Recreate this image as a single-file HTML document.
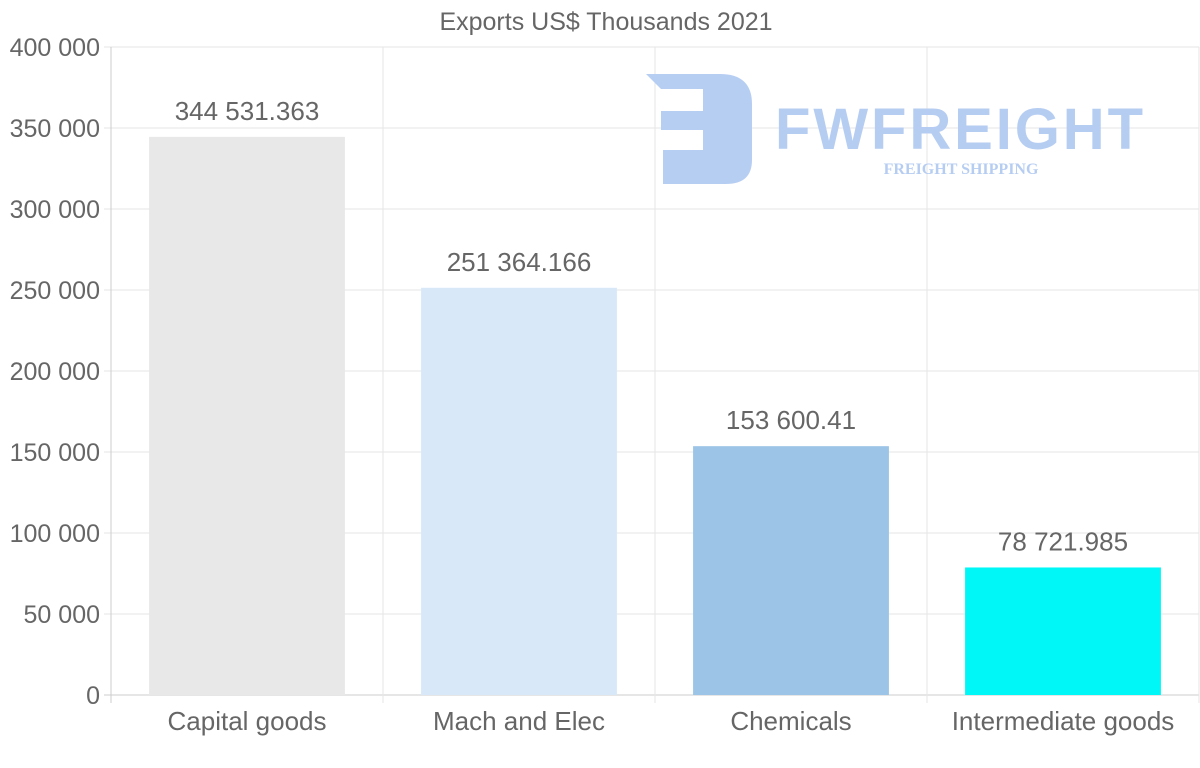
<!DOCTYPE html>
<html><head><meta charset="utf-8"><style>
body{margin:0;background:#fff;width:1200px;height:763px;overflow:hidden;font-family:"Liberation Sans",sans-serif}
svg text{font-family:"Liberation Sans",sans-serif;fill:#666}
</style></head><body>
<svg id="chart" width="1200" height="763" xmlns="http://www.w3.org/2000/svg">
<text x="606" y="30" text-anchor="middle" font-size="25">Exports US$ Thousands 2021</text>
<g id="grid"></g>
<g id="logo" opacity="0.95">
<path d="M646 74 H720 Q752 74 752 104 V160 Q752 184 726 184 H663 V150 H703 V130 H661 V111 H703 V89 H661 Z" fill="#b3cbf2"/>
<text x="775" y="149" font-size="58" font-weight="bold" style="fill:#b3cbf2;letter-spacing:2px" textLength="370">FWFREIGHT</text>
<text x="961" y="174" text-anchor="middle" font-size="16" font-weight="bold" style="fill:#b3cbf2;font-family:'Liberation Serif',serif">FREIGHT SHIPPING</text>
</g>
<g id="bars"></g>
</svg>
<script>
const categories=["Capital goods","Mach and Elec","Chemicals","Intermediate goods"];
const values=[344531.363,251364.166,153600.41,78721.985];
const valueLabels=["344 531.363","251 364.166","153 600.41","78 721.985"];
const colors=["#e8e8e8","#d8e8f9","#9cc4e7","#00f7f7"];
const ticks=[0,50000,100000,150000,200000,250000,300000,350000,400000];
const tickLabels=["0","50 000","100 000","150 000","200 000","250 000","300 000","350 000","400 000"];
const NS="http://www.w3.org/2000/svg";
const L=111,R=1199,T=47,B=695,yMax=400000;
const y=v=>B-(v/yMax)*(B-T);
const bw=(R-L)/categories.length;
const x=i=>L+i*bw;
function mk(t,a,p){const e=document.createElementNS(NS,t);for(const k in a)e.setAttribute(k,a[k]);p.appendChild(e);return e;}
const g=document.getElementById('grid'),bg=document.getElementById('bars');
ticks.forEach((t,i)=>{
 const ln=mk('line',{x1:104,x2:R,y1:y(t),y2:y(t),stroke:i===0?'#ccc':'#e6e6e6','stroke-width':1},g);
 
 
 const tx=mk('text',{x:100,y:y(t)+9,'text-anchor':'end','font-size':25},g);
 tx.textContent=tickLabels[i];
 
 
});
for(let i=0;i<=categories.length;i++){
 const ln=mk('line',{x1:x(i),x2:x(i),y1:T,y2:B+8,stroke:i===0?'#ccc':'#e6e6e6','stroke-width':1},g);
 
 
}
categories.forEach((c,i)=>{
 const w=bw*0.72,bx=x(i)+(bw-w)/2;
 const r=mk('rect',{x:bx,y:y(values[i]),width:w,height:B-y(values[i]),fill:colors[i]},bg);
 
 
 const vl=mk('text',{x:bx+w/2,y:y(values[i])-17,'text-anchor':'middle','font-size':26},bg);
 vl.textContent=valueLabels[i];
 
 
 const cl=mk('text',{x:bx+w/2,y:730,'text-anchor':'middle','font-size':26},bg);
 cl.textContent=c;
 
 
});
</script>
</body></html>
